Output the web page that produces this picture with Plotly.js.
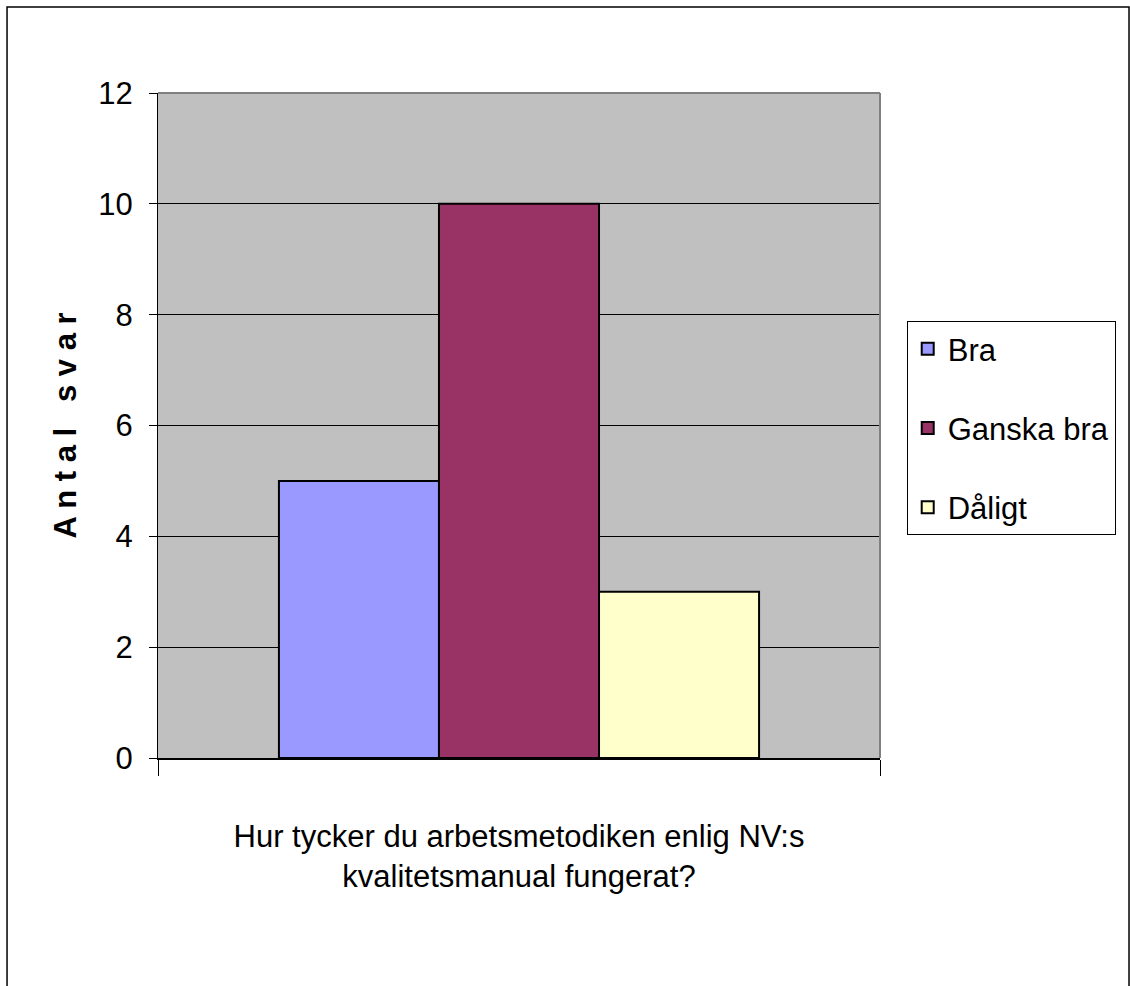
<!DOCTYPE html>
<html>
<head>
<meta charset="utf-8">
<script src="https://cdn.plot.ly/plotly-3.0.1.min.js"></script>
<style>
html,body{margin:0;padding:0;background:#fff;}
#chart{width:1130px;height:986px;}
</style>
</head>
<body>
<div id="chart"></div>
<script>
const seriesNames = ["Bra", "Ganska bra", "Dåligt"];
const seriesValues = [5, 10, 3];
const seriesColors = ["#9999FF", "#993366", "#FFFFCC"];
const categoryPos = [0];
const yTickVals = [0, 2, 4, 6, 8, 10, 12];
const xTitle = "Hur tycker du arbetsmetodiken enlig NV:s<br>kvalitetsmanual fungerat?";
const yTitle = "A n t a l \u00a0 s v a r";

const font = "Liberation Sans, Arial, sans-serif";

const traces = seriesNames.map((name, i) => ({
  type: "bar",
  name: name,
  x: categoryPos,
  y: [seriesValues[i]],
  legendgroup: "g" + i,
  marker: {color: seriesColors[i], line: {color: "#000", width: 2}},
  hoverinfo: "name+y"
}));

const layout = {
  width: 1130,
  height: 986,
  margin: {l: 158, r: 250, t: 93, b: 228},
  paper_bgcolor: "#ffffff",
  plot_bgcolor: "#C0C0C0",
  barmode: "group",
  bargap: 0.335,
  bargroupgap: 0,
  font: {family: font, color: "#000", size: 30},
  showlegend: true,
  legend: {
    x: 1.037, xanchor: "left",
    y: 0.657, yanchor: "top",
    bgcolor: "#fff",
    bordercolor: "#000",
    borderwidth: 1,
    font: {family: font, size: 31, color: "#000"},
    tracegroupgap: 36,
    traceorder: "grouped"
  },
  xaxis: {
    range: [-0.5, 0.5],
    tickvals: [-0.5, 0.5],
    ticktext: ["", ""],
    ticks: "outside",
    ticklen: 16,
    tickcolor: "#000",
    tickwidth: 1,
    showgrid: false,
    zeroline: false,
    showline: true,
    linecolor: "#000",
    linewidth: 2,
    fixedrange: true,
    title: {text: xTitle, font: {family: font, size: 31, color: "#000"}, standoff: 44}
  },
  yaxis: {
    range: [0, 12],
    tickvals: yTickVals,
    ticks: "outside",
    ticklen: 8,
    tickcolor: "#000",
    tickwidth: 1,
    ticklabelstandoff: 10,
    tickfont: {family: font, size: 31, color: "#000"},
    showgrid: true,
    gridcolor: "#000",
    gridwidth: 1,
    zeroline: false,
    showline: true,
    linecolor: "#000",
    linewidth: 1,
    fixedrange: true,
    title: {text: yTitle, font: {family: font, size: 31, color: "#000", weight: "bold"}, standoff: 12}
  },
  shapes: [
    {type: "line", xref: "paper", yref: "paper", x0: 0, x1: 1, y0: 1, y1: 1, line: {color: "#808080", width: 2}, layer: "above"},
    {type: "line", xref: "paper", yref: "paper", x0: 1, x1: 1, y0: 0, y1: 1, line: {color: "#808080", width: 2}, layer: "above"},
    {type: "rect", xref: "paper", yref: "paper", x0: -0.2091, x1: 1.3449, y0: -0.37, y1: 1.1293, line: {color: "#000", width: 1.5}, fillcolor: "rgba(0,0,0,0)", layer: "below"}
  ]
};

Plotly.newPlot("chart", traces, layout, {displayModeBar: false, staticPlot: false});
</script>
</body>
</html>
